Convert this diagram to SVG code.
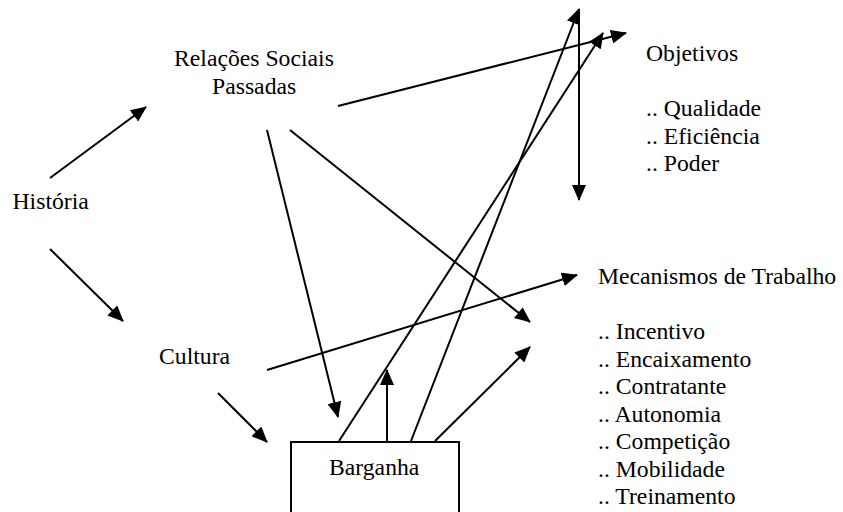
<svg xmlns="http://www.w3.org/2000/svg" width="843" height="512" viewBox="0 0 843 512">
<style>
text{font-family:"Liberation Serif","Times New Roman",serif;font-size:23.7px;fill:#000}
.c line{stroke:#000;stroke-width:2;fill:none}
.a{marker-end:url(#ah)}
.box{fill:#fff;stroke:#000;stroke-width:2}
</style>
<defs>
<marker id="ah" markerUnits="userSpaceOnUse" markerWidth="16" markerHeight="14" refX="15" refY="7" orient="auto">
<path d="M0,0 L16,7 L0,14 z" fill="#000"/>
</marker>
</defs>
<rect width="843" height="512" fill="#fff"/>
<g id="barganha">
<rect class="box" x="291" y="442" width="168" height="100"/>
<text x="329" y="475">Barganha</text>
</g>
<g id="connectors" class="c">
<line class="a" x1="50" y1="178" x2="146" y2="107"/>
<line class="a" x1="50" y1="249" x2="123" y2="321"/>
<line class="a" x1="218" y1="393" x2="267" y2="442"/>
<line class="a" x1="267" y1="130" x2="338" y2="417"/>
<line class="a" x1="290" y1="130" x2="530" y2="322"/>
<line class="a" x1="338" y1="106" x2="626" y2="33"/>
<line class="a" x1="267" y1="370" x2="577" y2="275"/>
<line class="a" x1="411" y1="441" x2="579" y2="9"/>
<line class="a" x1="339" y1="441" x2="603" y2="33"/>
<line class="a" x1="579" y1="9" x2="579" y2="200"/>
<line class="a" x1="387" y1="441" x2="387" y2="370"/>
<line class="a" x1="435" y1="441" x2="530" y2="347"/>
</g>
<g id="relacoes">
<text x="174" y="66">Relações Sociais</text>
<text x="212" y="94">Passadas</text>
</g>
<g id="historia"><text x="12.5" y="209">História</text></g>
<g id="cultura"><text x="159" y="364">Cultura</text></g>
<g id="objetivos">
<text x="646" y="61">Objetivos</text>
<text x="646" y="116">.. Qualidade</text>
<text x="646" y="143.5">.. Eficiência</text>
<text x="646" y="171">.. Poder</text>
</g>
<g id="mecanismos">
<text x="598" y="284">Mecanismos de Trabalho</text>
<text x="598" y="339">.. Incentivo</text>
<text x="598" y="366.5">.. Encaixamento</text>
<text x="598" y="394">.. Contratante</text>
<text x="598" y="421.5">.. Autonomia</text>
<text x="598" y="449">.. Competição</text>
<text x="598" y="476.5">.. Mobilidade</text>
<text x="598" y="504">.. Treinamento</text>
</g>
</svg>
